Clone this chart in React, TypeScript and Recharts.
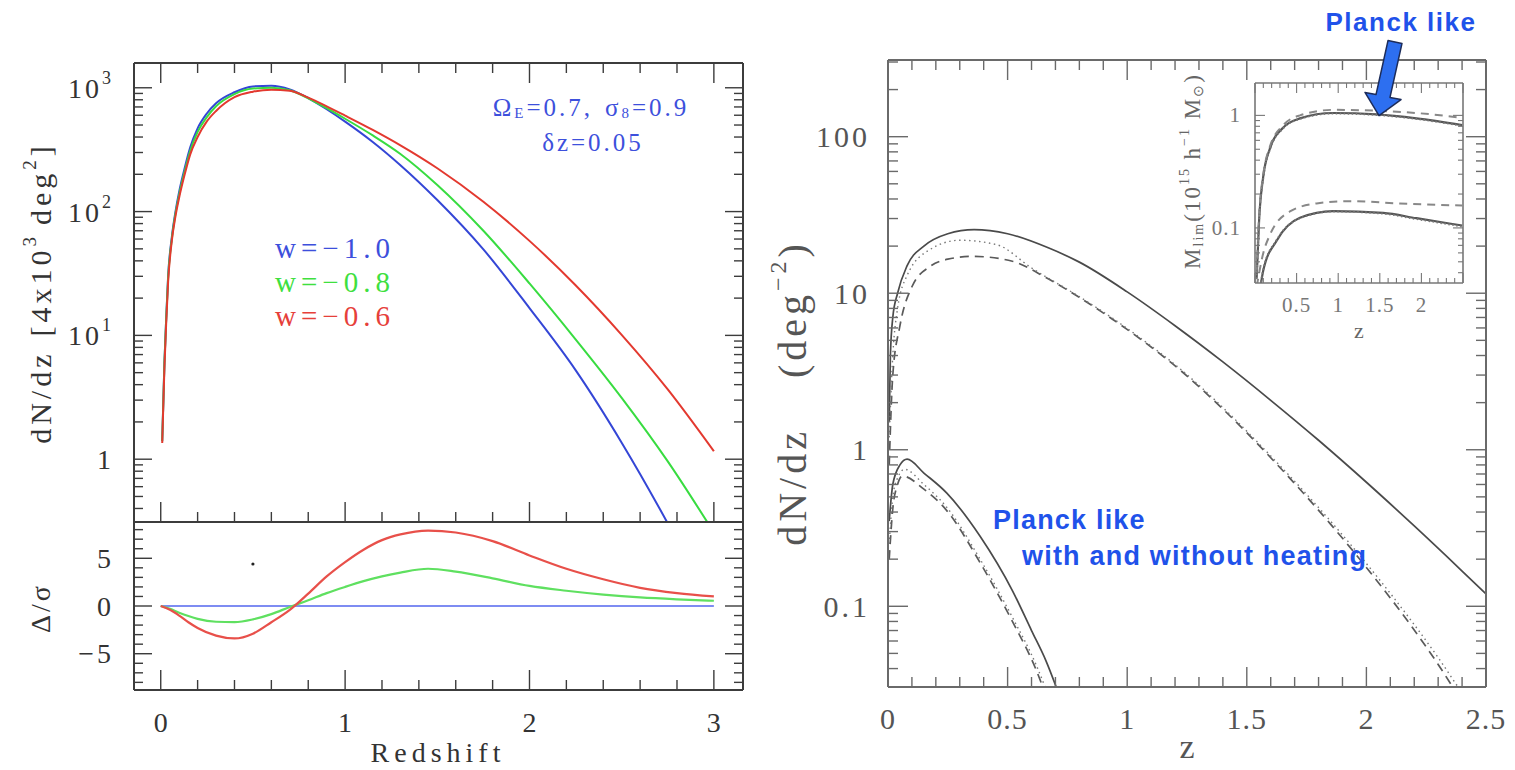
import React from 'react';
import { LineChart, ComposedChart, Line, Scatter, XAxis, YAxis } from 'recharts';

// ---- left panel, top: dN/dz for three w values ----
const zLeft = [0.008, 0.02, 0.03, 0.04, 0.06, 0.08, 0.1, 0.13, 0.16, 0.2, 0.25, 0.3, 0.4, 0.5, 0.6, 0.7, 0.8, 0.9, 1.0, 1.15, 1.3, 1.5, 1.75, 2.0, 2.25, 2.5, 2.75, 3.0];
const nBlue = [1.4, 6, 14, 30, 62, 100, 145, 225, 330, 470, 620, 750, 920, 1025, 1040, 971, 826, 671, 533, 365, 237, 124, 49.5, 16.6, 5.24, 1.36, 0.303, 0.059];
const nGreen = [1.4, 6, 14, 29, 60, 96, 137, 212, 310, 440, 580, 710, 890, 985, 1000, 955, 822, 684, 562, 412, 292, 164, 70, 26.3, 9.3, 3.13, 0.96, 0.256];
const nRed = [1.35, 5.5, 13, 27, 58, 92, 130, 200, 290, 400, 535, 650, 840, 930, 966, 944, 832, 708, 596, 457, 343, 224, 120, 58, 25.4, 10.1, 3.66, 1.16];

// ---- left panel, bottom: Delta / sigma ----
const zDiff = [0, 0.05, 0.1, 0.15, 0.2, 0.3, 0.4, 0.5, 0.6, 0.7, 0.8, 0.9, 1.0, 1.1, 1.2, 1.3, 1.45, 1.6, 1.8, 2.0, 2.2, 2.4, 2.6, 2.8, 3.0];
const dBlue = [0, 0, 0, 0, 0, 0, 0, 0, 0, 0, 0, 0, 0, 0, 0, 0, 0, 0, 0, 0, 0, 0, 0, 0, 0];
const dGreen = [0, -0.3, -0.7, -1.05, -1.35, -1.65, -1.68, -1.4, -0.85, -0.1, 0.6, 1.35, 2.0, 2.6, 3.1, 3.5, 3.9, 3.6, 2.9, 2.1, 1.6, 1.2, 0.9, 0.7, 0.55];
const dRed = [0, -0.4, -1.0, -1.7, -2.3, -3.1, -3.4, -2.9, -1.7, -0.4, 1.3, 3.1, 4.6, 5.9, 6.9, 7.5, 7.9, 7.7, 6.8, 5.3, 3.9, 2.8, 1.9, 1.35, 1.0];
const strayDot = [{ z: 0.5, v: 4.4 }];

// ---- right panel: dN/dz (deg^-2) ----
const zHiSolid = [0.005, 0.01, 0.02, 0.04, 0.08, 0.15, 0.25, 0.36, 0.5, 0.67, 0.8, 1.0, 1.2, 1.4, 1.6, 1.8, 2.0, 2.2, 2.4, 2.5];
const nHiSolid = [1.5, 4, 7, 10, 15, 20, 24, 25.5, 24, 19.5, 15.8, 10.2, 6.2, 3.64, 2.07, 1.15, 0.62, 0.326, 0.168, 0.12];
const zHiDash = [0.005, 0.02, 0.05, 0.1, 0.175, 0.25, 0.355, 0.52, 0.66, 0.8, 0.94, 1.08, 1.22, 1.4, 1.61, 1.85, 2.02, 2.19, 2.3, 2.4];
const nHiDash = [0.8, 3, 6.2, 11, 14.8, 16.5, 17.2, 16, 12.6, 9.4, 6.8, 4.78, 3.24, 1.82, 0.857, 0.335, 0.162, 0.074, 0.0425, 0.0244];
const zHiDot = [0.005, 0.02, 0.04, 0.08, 0.175, 0.3, 0.455, 0.6, 0.8, 0.94, 1.08, 1.22, 1.4, 1.61, 1.85, 2.02, 2.19, 2.3, 2.4, 2.45];
const nHiDot = [1.2, 4, 8, 13, 19, 21.8, 20.4, 14.5, 9.5, 6.9, 4.85, 3.3, 1.86, 0.88, 0.35, 0.172, 0.08, 0.047, 0.028, 0.022];
const zLoSolid = [0.005, 0.02, 0.05, 0.08, 0.15, 0.245, 0.385, 0.52, 0.6, 0.66, 0.72];
const nLoSolid = [0.35, 0.6, 0.8, 0.87, 0.71, 0.53, 0.28, 0.126, 0.07, 0.045, 0.026];
const zLoDash = [0.005, 0.02, 0.04, 0.06, 0.15, 0.245, 0.385, 0.52, 0.62, 0.66];
const nLoDash = [0.2, 0.42, 0.6, 0.68, 0.56, 0.41, 0.19, 0.08, 0.039, 0.027];
const zLoDot = [0.005, 0.02, 0.04, 0.07, 0.15, 0.245, 0.385, 0.52, 0.62, 0.67];
const nLoDot = [0.25, 0.5, 0.66, 0.75, 0.6, 0.43, 0.2, 0.085, 0.042, 0.027];

// ---- inset: M_lim(z) ----
const zInHi = [0.02, 0.05, 0.1, 0.18, 0.34, 0.54, 0.94, 1.46, 1.94, 2.49];
const mInHiSolid = [0.036, 0.12, 0.29, 0.51, 0.78, 0.94, 1.05, 1.02, 0.94, 0.82];
const mInHiDash = [0.04, 0.13, 0.3, 0.53, 0.82, 1.0, 1.12, 1.1, 1.05, 0.95];
const mInHiDot = [0.035, 0.12, 0.28, 0.5, 0.77, 0.93, 1.04, 1.01, 0.93, 0.81];
const zInLo = [0.05, 0.1, 0.26, 0.54, 0.94, 1.54, 1.94, 2.49];
const mInLoSolid = [0.025, 0.042, 0.077, 0.123, 0.141, 0.136, 0.122, 0.105];
const mInLoDot = [0.026, 0.043, 0.078, 0.122, 0.14, 0.134, 0.12, 0.103];
const zInLoDash = [0.02, 0.1, 0.18, 0.42, 0.74, 1.14, 1.74, 2.49];
const mInLoDash = [0.03, 0.06, 0.087, 0.14, 0.165, 0.173, 0.165, 0.158];

const pts = (zs: number[], vs: number[]) => zs.map((z, i) => ({ z, v: vs[i] }));

const linTicks = (a: number, b: number, s: number) => {
  const out: number[] = [];
  for (let i = 0; a + i * s <= b + 1e-9; i++) out.push(+(a + i * s).toFixed(4));
  return out;
};
const logTicks = (lo: number, hi: number) => {
  const out: number[] = [];
  for (let e = -3; e <= 4; e++)
    for (let m = 1; m <= 9; m++) {
      const v = +(m * Math.pow(10, e)).toPrecision(6);
      if (v >= lo && v <= hi) out.push(v);
    }
  return out;
};
const isMult = (s: number) => (v: number) => Math.abs(v / s - Math.round(v / s)) < 1e-6;
const isDecade = (v: number) => Math.abs(Math.log10(v) - Math.round(Math.log10(v))) < 1e-6;

type Side = 'left' | 'right' | 'top' | 'bottom';
interface TickCfg {
  side: Side;
  isMajor: (v: number) => boolean;
  major: number;
  minor: number;
  color: string;
  sw?: number;
  label?: (v: number) => React.ReactNode;
  gap?: number;
  font?: number;
  fill?: string;
  ls?: number;
}

const tickFor = (c: TickCfg) => (p: any) => {
  const v = p.payload.value as number;
  const { x, y } = p;
  const big = c.isMajor(v);
  const len = big ? c.major : c.minor;
  const x2 = c.side === 'left' ? x + len : c.side === 'right' ? x - len : x;
  const y2 = c.side === 'top' ? y + len : c.side === 'bottom' ? y - len : y;
  let txt: React.ReactNode = null;
  if (big && c.label) {
    const lab = c.label(v);
    if (lab !== null) {
      const g = c.gap ?? 10;
      const tx = c.side === 'left' ? x - g : c.side === 'right' ? x + g : x;
      const ty = c.side === 'bottom' ? y + g : c.side === 'top' ? y - g : y;
      txt = (
        <text
          x={tx}
          y={ty}
          textAnchor={c.side === 'left' ? 'end' : c.side === 'right' ? 'start' : 'middle'}
          dominantBaseline="central"
          fontFamily="Liberation Serif"
          fontSize={c.font ?? 28}
          fill={c.fill ?? '#333'}
          letterSpacing={c.ls ?? 0}
        >
          {lab}
        </text>
      );
    }
  }
  return (
    <g>
      <line x1={x} y1={y} x2={x2} y2={y2} stroke={c.color} strokeWidth={c.sw ?? 1.4} />
      {txt}
    </g>
  );
};

const axisBase = {
  type: 'number' as const,
  allowDataOverflow: true,
  interval: 0 as const,
  tickSize: 0,
  tickMargin: 0,
  tickLine: false,
};

// domains
const LX: [number, number] = [-0.145, 3.158];
const LY: [number, number] = [0.311, 1585];
const DY: [number, number] = [-8.8, 8.8];
const RX: [number, number] = [0, 2.5];
const RY: [number, number] = [0.0305, 309];
const IX: [number, number] = [0, 2.5];
const IY: [number, number] = [0.0324, 1.94];

const frameL = { stroke: '#3c3c3c', strokeWidth: 2 };
const frameR = { stroke: '#6a6a6a', strokeWidth: 2 };
const frameI = { stroke: '#777', strokeWidth: 1.6 };
const tkL = '#3c3c3c';
const tkR = '#6a6a6a';

const powLabel = (v: number) => {
  const e = Math.round(Math.log10(v));
  if (e === 0) return '1';
  return (
    <>
      <tspan>10</tspan>
      <tspan dy={-10} fontSize={18}>{e}</tspan>
    </>
  );
};
const plainLog = (v: number) => (v >= 1 ? String(Math.round(v)) : String(+v.toPrecision(1)));
const halfLabel = (v: number) => String(+v.toFixed(1));
const diffLabel = (v: number) => (v < 0 ? '\u2212' + Math.abs(v) : String(v));

const blueC = '#3446d6';
const greenC = '#38dc40';
const redC = '#e3392f';
const lineGray = '#4a4a4a';

const App: React.FC = () => {
  const xLeftTicks = linTicks(0, 3, 0.2);
  const yLeftTicks = logTicks(LY[0], LY[1]);
  const yDiffTicks = linTicks(-8, 8, 1);
  const xRightTicks = linTicks(0, 2.5, 0.1);
  const yRightTicks = logTicks(RY[0], RY[1]);
  const yInsetTicks = logTicks(IY[0], IY[1]);

  return (
    <div style={{ position: 'absolute', left: 0, top: 0, width: 1515, height: 770, background: '#fff', overflow: 'hidden' }}>
      {/* left top */}
      <div style={{ position: 'absolute', left: 0, top: 0 }}>
        <LineChart width={760} height={530} margin={{ top: 0, right: 0, bottom: 0, left: 0 }}>
          <XAxis {...axisBase} xAxisId="b" dataKey="z" domain={LX} ticks={xLeftTicks} height={8} axisLine={frameL}
            tick={tickFor({ side: 'bottom', isMajor: isMult(1), major: 20, minor: 10, color: tkL })} />
          <XAxis {...axisBase} xAxisId="t" orientation="top" dataKey="z" domain={LX} ticks={xLeftTicks} height={63} axisLine={frameL}
            tick={tickFor({ side: 'top', isMajor: isMult(1), major: 20, minor: 10, color: tkL })} />
          <YAxis {...axisBase} yAxisId="l" scale="log" dataKey="v" domain={LY} ticks={yLeftTicks} width={134} axisLine={frameL}
            tick={tickFor({ side: 'left', isMajor: isDecade, major: 18, minor: 9, color: tkL, label: powLabel, gap: 20, font: 28, ls: 3 })} />
          <YAxis {...axisBase} yAxisId="r" orientation="right" scale="log" dataKey="v" domain={LY} ticks={yLeftTicks} width={17} axisLine={frameL}
            tick={tickFor({ side: 'right', isMajor: isDecade, major: 18, minor: 9, color: tkL })} />
          <Line xAxisId="b" yAxisId="l" data={pts(zLeft, nBlue)} dataKey="v" type="monotone" stroke={blueC} strokeWidth={2} dot={false} isAnimationActive={false} />
          <Line xAxisId="t" yAxisId="r" data={pts(zLeft, nGreen)} dataKey="v" type="monotone" stroke={greenC} strokeWidth={2} dot={false} isAnimationActive={false} />
          <Line xAxisId="b" yAxisId="l" data={pts(zLeft, nRed)} dataKey="v" type="monotone" stroke={redC} strokeWidth={2} dot={false} isAnimationActive={false} />
        </LineChart>
      </div>

      {/* left bottom */}
      <div style={{ position: 'absolute', left: 0, top: 500 }}>
        <ComposedChart width={760} height={270} margin={{ top: 0, right: 0, bottom: 0, left: 0 }}>
          <XAxis {...axisBase} xAxisId="b" dataKey="z" domain={LX} ticks={xLeftTicks} height={80} axisLine={frameL}
            tick={tickFor({ side: 'bottom', isMajor: isMult(1), major: 20, minor: 10, color: tkL, label: (v) => String(v), gap: 32, font: 28 })} />
          <XAxis {...axisBase} xAxisId="t" orientation="top" dataKey="z" domain={LX} ticks={[]} height={22} axisLine={frameL} tick={false} />
          <YAxis {...axisBase} yAxisId="l" dataKey="v" domain={DY} ticks={yDiffTicks} width={134} axisLine={frameL}
            tick={tickFor({ side: 'left', isMajor: isMult(5), major: 18, minor: 9, color: tkL, label: diffLabel, gap: 20, font: 28, ls: 3 })} />
          <YAxis {...axisBase} yAxisId="r" orientation="right" dataKey="v" domain={DY} ticks={yDiffTicks} width={17} axisLine={frameL}
            tick={tickFor({ side: 'right', isMajor: isMult(5), major: 18, minor: 9, color: tkL })} />
          <Line xAxisId="b" yAxisId="l" data={pts(zDiff, dBlue)} dataKey="v" type="monotone" stroke="#7e8cf2" strokeWidth={2.2} dot={false} isAnimationActive={false} />
          <Line xAxisId="t" yAxisId="r" data={pts(zDiff, dGreen)} dataKey="v" type="monotone" stroke="#5fe060" strokeWidth={2.2} dot={false} isAnimationActive={false} />
          <Line xAxisId="b" yAxisId="l" data={pts(zDiff, dRed)} dataKey="v" type="monotone" stroke="#e8504a" strokeWidth={2.2} dot={false} isAnimationActive={false} />
          <Scatter xAxisId="b" yAxisId="l" data={strayDot} dataKey="v" isAnimationActive={false}
            shape={(p: any) => <circle cx={p.cx} cy={p.cy} r={1.6} fill="#222" />} />
        </ComposedChart>
      </div>

      {/* right main */}
      <div style={{ position: 'absolute', left: 760, top: 0 }}>
        <LineChart width={755} height={770} margin={{ top: 0, right: 0, bottom: 0, left: 0 }}>
          <XAxis {...axisBase} xAxisId="b" dataKey="z" domain={RX} ticks={xRightTicks} height={83} axisLine={frameR}
            tick={tickFor({ side: 'bottom', isMajor: isMult(0.5), major: 20, minor: 10, color: tkR, label: halfLabel, gap: 31, font: 30, fill: '#555', ls: 1 })} />
          <XAxis {...axisBase} xAxisId="t" orientation="top" dataKey="z" domain={RX} ticks={xRightTicks} height={60} axisLine={frameR}
            tick={tickFor({ side: 'top', isMajor: isMult(0.5), major: 20, minor: 10, color: tkR })} />
          <YAxis {...axisBase} yAxisId="l" scale="log" dataKey="v" domain={RY} ticks={yRightTicks} width={128} axisLine={frameR}
            tick={tickFor({ side: 'left', isMajor: isDecade, major: 20, minor: 10, color: tkR, label: plainLog, gap: 18, font: 30, fill: '#555', ls: 3 })} />
          <YAxis {...axisBase} yAxisId="r" orientation="right" scale="log" dataKey="v" domain={RY} ticks={yRightTicks} width={29} axisLine={frameR}
            tick={tickFor({ side: 'right', isMajor: isDecade, major: 20, minor: 10, color: tkR })} />
          <Line xAxisId="b" yAxisId="l" data={pts(zHiSolid, nHiSolid)} dataKey="v" type="monotone" stroke={lineGray} strokeWidth={1.7} dot={false} isAnimationActive={false} />
          <Line xAxisId="t" yAxisId="r" data={pts(zHiDash, nHiDash)} dataKey="v" type="monotone" stroke="#5a5a5a" strokeWidth={1.7} strokeDasharray="9 6" dot={false} isAnimationActive={false} />
          <Line xAxisId="b" yAxisId="l" data={pts(zHiDot, nHiDot)} dataKey="v" type="monotone" stroke="#777" strokeWidth={1.4} strokeDasharray="1.5 3.5" dot={false} isAnimationActive={false} />
          <Line xAxisId="b" yAxisId="l" data={pts(zLoSolid, nLoSolid)} dataKey="v" type="monotone" stroke={lineGray} strokeWidth={1.7} dot={false} isAnimationActive={false} />
          <Line xAxisId="b" yAxisId="l" data={pts(zLoDash, nLoDash)} dataKey="v" type="monotone" stroke="#5a5a5a" strokeWidth={1.7} strokeDasharray="9 6" dot={false} isAnimationActive={false} />
          <Line xAxisId="b" yAxisId="l" data={pts(zLoDot, nLoDot)} dataKey="v" type="monotone" stroke="#777" strokeWidth={1.4} strokeDasharray="1.5 3.5" dot={false} isAnimationActive={false} />
        </LineChart>
      </div>

      {/* inset */}
      <div style={{ position: 'absolute', left: 1140, top: 60 }}>
        <LineChart width={340} height={290} margin={{ top: 0, right: 0, bottom: 0, left: 0 }}>
          <XAxis {...axisBase} xAxisId="b" dataKey="z" domain={IX} ticks={xRightTicks} height={67} axisLine={frameI}
            tick={tickFor({ side: 'bottom', isMajor: isMult(0.5), major: 10, minor: 5, color: '#777', sw: 1.1,
              label: (v) => (v > 0 && v < 2.5 ? halfLabel(v) : null), gap: 22, font: 21, fill: '#777', ls: 1 })} />
          <XAxis {...axisBase} xAxisId="t" orientation="top" dataKey="z" domain={IX} ticks={xRightTicks} height={23} axisLine={frameI}
            tick={tickFor({ side: 'top', isMajor: isMult(0.5), major: 10, minor: 5, color: '#777', sw: 1.1 })} />
          <YAxis {...axisBase} yAxisId="l" scale="log" dataKey="v" domain={IY} ticks={yInsetTicks} width={115} axisLine={frameI}
            tick={tickFor({ side: 'left', isMajor: isDecade, major: 10, minor: 5, color: '#777', sw: 1.1, label: plainLog, gap: 14, font: 21, fill: '#777', ls: 1 })} />
          <YAxis {...axisBase} yAxisId="r" orientation="right" scale="log" dataKey="v" domain={IY} ticks={yInsetTicks} width={17} axisLine={frameI}
            tick={tickFor({ side: 'right', isMajor: isDecade, major: 10, minor: 5, color: '#777', sw: 1.1 })} />
          <Line xAxisId="b" yAxisId="l" data={pts(zInHi, mInHiSolid)} dataKey="v" type="monotone" stroke="#555" strokeWidth={2.2} dot={false} isAnimationActive={false} />
          <Line xAxisId="t" yAxisId="r" data={pts(zInHi, mInHiDash)} dataKey="v" type="monotone" stroke="#888" strokeWidth={2} strokeDasharray="8 6" dot={false} isAnimationActive={false} />
          <Line xAxisId="b" yAxisId="l" data={pts(zInHi, mInHiDot)} dataKey="v" type="monotone" stroke="#777" strokeWidth={2} strokeDasharray="1.5 2.5" dot={false} isAnimationActive={false} />
          <Line xAxisId="b" yAxisId="l" data={pts(zInLo, mInLoSolid)} dataKey="v" type="monotone" stroke="#555" strokeWidth={2.2} dot={false} isAnimationActive={false} />
          <Line xAxisId="b" yAxisId="l" data={pts(zInLoDash, mInLoDash)} dataKey="v" type="monotone" stroke="#888" strokeWidth={2} strokeDasharray="8 6" dot={false} isAnimationActive={false} />
          <Line xAxisId="b" yAxisId="l" data={pts(zInLo, mInLoDot)} dataKey="v" type="monotone" stroke="#777" strokeWidth={2} strokeDasharray="1.5 2.5" dot={false} isAnimationActive={false} />
        </LineChart>
      </div>

      {/* titles and annotations */}
      <svg width={1515} height={770} style={{ position: 'absolute', left: 0, top: 0, pointerEvents: 'none' }}>
        <g fontFamily="Liberation Serif" fill="#333">
          <text transform="translate(40,293) rotate(-90)" textAnchor="middle" dominantBaseline="central" fontSize={30} letterSpacing={4}>
            dN/dz<tspan dx={14}>[4x10</tspan><tspan dy={-11} fontSize={19}>3</tspan><tspan dy={11} dx={8}>deg</tspan><tspan dy={-11} fontSize={19}>2</tspan><tspan dy={11}>]</tspan>
          </text>
          <text transform="translate(40,608) rotate(-90)" textAnchor="middle" dominantBaseline="central" fontSize={28} letterSpacing={3}>
            {'\u0394/\u03c3'}
          </text>
          <text x={438} y={752} textAnchor="middle" dominantBaseline="central" fontSize={28} letterSpacing={5}>Redshift</text>
        </g>
        <g fontFamily="Liberation Serif" fill="#3d50dc" fontSize={25} letterSpacing={3}>
          <text x={591} y={107} textAnchor="middle" dominantBaseline="central">
            {'\u03a9'}<tspan dy={6} fontSize={15}>E</tspan><tspan dy={-6}>=0.7,</tspan><tspan dx={12}>{'\u03c3'}</tspan><tspan dy={6} fontSize={15}>8</tspan><tspan dy={-6}>=0.9</tspan>
          </text>
          <text x={593} y={142} textAnchor="middle" dominantBaseline="central">{'\u03b4z=0.05'}</text>
        </g>
        <g fontFamily="Liberation Serif" fontSize={29} letterSpacing={5}>
          <text x={275} y={248} dominantBaseline="central" fill="#3d4fdc">{'w=\u22121.0'}</text>
          <text x={275} y={282} dominantBaseline="central" fill="#3fe03f">{'w=\u22120.8'}</text>
          <text x={275} y={316} dominantBaseline="central" fill="#e6403a">{'w=\u22120.6'}</text>
        </g>

        <g fontFamily="Liberation Serif" fill="#555">
          <text transform="translate(792,393) rotate(-90)" textAnchor="middle" dominantBaseline="central" fontSize={40} letterSpacing={4}>
            dN/dz<tspan dx={50}>(deg</tspan><tspan dy={-14} fontSize={24}>{'\u22122'}</tspan><tspan dy={14}>)</tspan>
          </text>
          <text x={1187} y={746} textAnchor="middle" dominantBaseline="central" fontSize={34}>z</text>
        </g>
        <g fontFamily="Liberation Serif" fill="#666">
          <text transform="translate(1192,171) rotate(-90)" textAnchor="middle" dominantBaseline="central" fontSize={23} letterSpacing={2}>
            M<tspan dy={6} fontSize={14}>lim</tspan><tspan dy={-6}>(10</tspan><tspan dy={-8} fontSize={14}>15</tspan><tspan dy={8}> h</tspan><tspan dy={-8} fontSize={14}>{'\u22121'}</tspan><tspan dy={8}> M</tspan><tspan dy={6} fontSize={14}>{'\u2299'}</tspan><tspan dy={-6}>)</tspan>
          </text>
          <text x={1359} y={330} textAnchor="middle" dominantBaseline="central" fontSize={22}>z</text>
        </g>

        <g fontFamily="Liberation Sans" fontWeight="bold" fill="#1f52ea">
          <text x={1401} y={31} textAnchor="middle" fontSize={26} letterSpacing={1.5}>Planck like</text>
          <text x={993} y={529} fontSize={27} letterSpacing={1.2}>Planck like</text>
          <text x={1022} y={565} fontSize={27} letterSpacing={1.2}>with and without heating</text>
        </g>
        <polygon
          points="1388,40.6 1402,43.4 1390,97.4 1401,99.6 1379,115.6 1365,92.4 1376,94.6"
          fill="#2d6ff0"
          stroke="#1c2c5a"
          strokeWidth={1.5}
          strokeLinejoin="round"
        />
      </svg>
    </div>
  );
};

export default App;
